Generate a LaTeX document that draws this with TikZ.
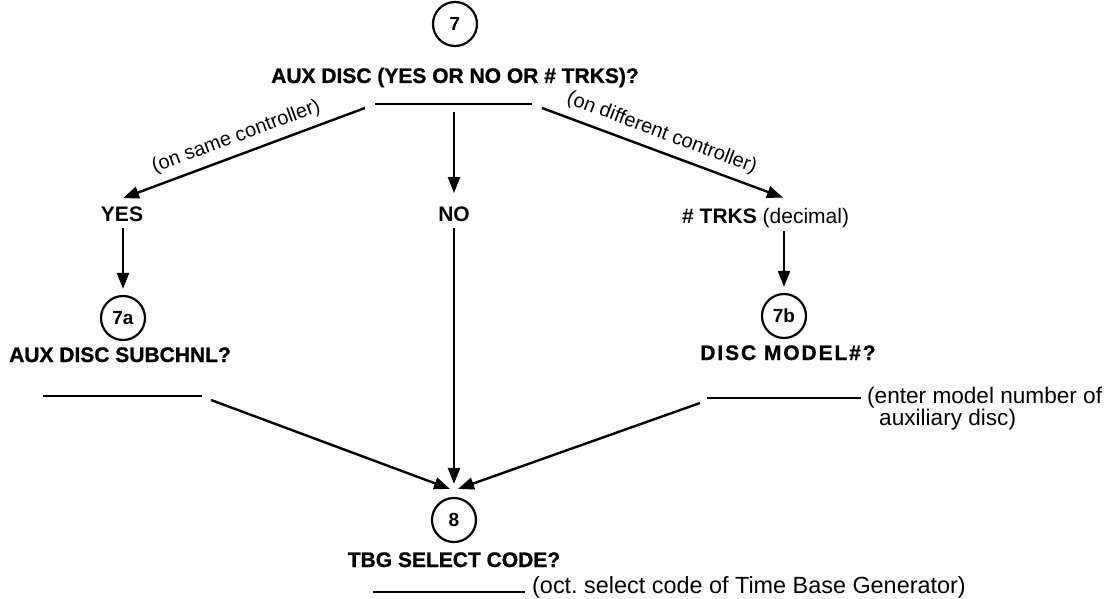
\documentclass[tikz,border=0pt]{standalone}
\usepackage{fontspec}
\setmainfont{Liberation Sans}
\usetikzlibrary{arrows.meta,calc}
\begin{document}
\begin{tikzpicture}[x=1pt,y=-1pt,
  ln/.style={line width=2.4pt},
  arr/.style={line width=2.4pt,-{Triangle[length=16pt,width=12pt]}},
  circ/.style={circle,draw,line width=2.2pt,minimum size=44pt,inner sep=0pt,font=\bfseries\fontsize{19}{23}\selectfont},
  qtext/.style={inner sep=0pt,anchor=base,font=\bfseries\fontsize{21}{25}\selectfont\addfontfeature{FakeBold=1}},
  atext/.style={inner sep=0pt,anchor=base,font=\bfseries\fontsize{21}{25}\selectfont},
  note/.style={inner sep=0pt,anchor=base west,font=\fontsize{22.6}{26}\selectfont},
  lab/.style={inner sep=0pt,anchor=base,font=\fontsize{20}{24}\selectfont}]
\fill[white] (0,0) rectangle (1106,599);
\useasboundingbox (0,0) rectangle (1106,599);

% question 7
\node[circ] (c7) at (455,24) {7};
\node[qtext] (q7) at (455,83) {AUX DISC (YES OR NO OR \# TRKS)?};
\coordinate (b7L) at (375,104);
\coordinate (b7R) at (532,104);
\draw[ln] (b7L) -- (b7R);
\coordinate (s7L) at (365,108);
\coordinate (s7M) at (454,112);
\coordinate (s7R) at (542,108);

% answers
\node[atext] (yes) at (122,222) {YES};
\node[atext] (no) at (454,222) {NO};
\node[atext,anchor=base west] (trks) at (682,223) {\# TRKS {\mdseries(decimal)}};

\node[lab,rotate=20.4] (lsame) at (238,142) {(on same controller)};
\node[lab,rotate=-20.5] (ldiff) at (660,138) {(on different controller)};

% sub-questions
\node[circ] (c7a) at (123,318) {7a};
\node[qtext] (q7a) at (120,362) {AUX DISC SUBCHNL?};
\coordinate (b7aL) at (43,396);
\coordinate (b7aR) at (202,396);
\draw[ln] (b7aL) -- (b7aR);
\coordinate (d7a) at (211,400);

\node[circ] (c7b) at (784,316) {7b};
\node[qtext,font=\bfseries\fontsize{21}{25}\selectfont\addfontfeature{LetterSpace=9,FakeBold=1}] (q7b) at (788,360) {DISC MODEL\#?};
\coordinate (b7bL) at (707,398);
\coordinate (b7bR) at (861,398);
\draw[ln] (b7bL) -- (b7bR);
\coordinate (d7b) at (700,403);
\node[note] (n7b1) at (867,403) {(enter model number of};
\node[note] (n7b2) at (879,425) {auxiliary disc)};

% question 8
\node[circ] (c8) at (454,520) {8};
\node[qtext] (q8) at (454,567) {TBG SELECT CODE?};
\coordinate (b8L) at (373,592);
\coordinate (b8R) at (525,592);
\draw[ln] (b8L) -- (b8R);
\node[note,font=\fontsize{23.4}{26}\selectfont] (n8) at (532,593) {(oct.\ select code of Time Base Generator)};

% connectors
\draw[arr] (s7L) -- ($(yes.north)+(1,-9)$);
\draw[arr] (s7M) -- ($(no.north)+(0,-14)$);
\draw[arr] (s7R) -- ($(trks.north -| c7b)+(-1,-10)$);
\draw[arr,shorten <=6pt,shorten >=6pt] (yes.south -| c7a) -- (c7a.north);
\draw[arr,shorten <=6pt,shorten >=13pt] (no.south) -- (c8.north);
\draw[arr,shorten <=3pt,shorten >=6pt] (trks.south -| c7b) -- (c7b.north);
\draw[arr] (d7a) -- ($(c8.north)+(-4,-8)$);
\draw[arr] (d7b) -- ($(c8.north)+(4,-8)$);
\end{tikzpicture}
\end{document}
